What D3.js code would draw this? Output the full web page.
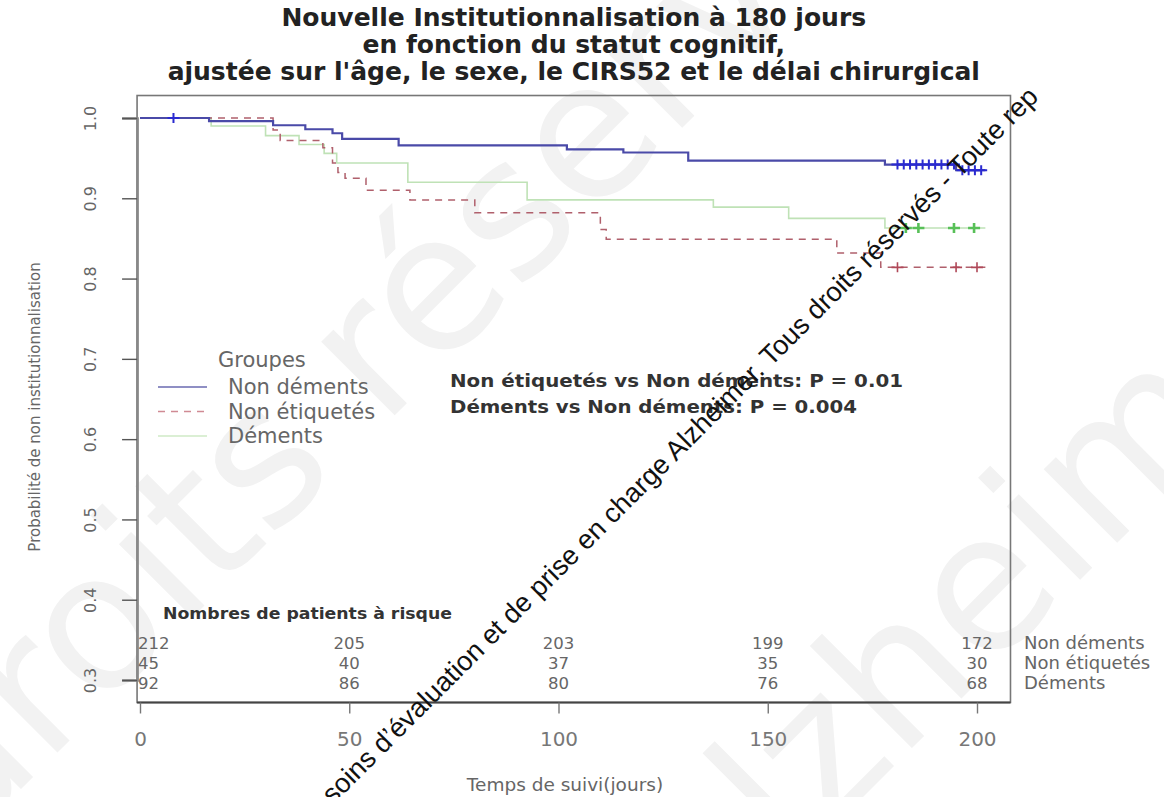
<!DOCTYPE html>
<html>
<head>
<meta charset="utf-8">
<script src="https://cdn.jsdelivr.net/npm/d3@7"></script>
<style>
  body { margin: 0; background: #fff; }
  svg { display: block; }
  text { font-family: "DejaVu Sans", sans-serif; }
</style>
</head>
<body>
<svg id="chart" width="1164" height="797"></svg>
<script>
// ---- Data ----------------------------------------------------------------
const groups = ["Non déments", "Non étiquetés", "Déments"];

// Adjusted survival curves: step change times (days) and survival after each step
const timesNonDements = [0, 16.5, 31.8, 39.5, 46, 48.3, 61.8, 102, 115.5, 131, 178, 195];
const survNonDements  = [1.000, 0.996, 0.991, 0.986, 0.981, 0.974, 0.966, 0.961, 0.957, 0.947, 0.942, 0.935];

const timesNonEtiquetes = [0, 31.8, 33.5, 43.7, 46, 47.3, 49, 54, 64.5, 80, 110, 111.4, 166.5, 177];
const survNonEtiquetes  = [1.000, 0.985, 0.972, 0.963, 0.944, 0.932, 0.925, 0.910, 0.898, 0.882, 0.861, 0.849, 0.832, 0.814];

const timesDements = [0, 17, 30, 38, 44, 47, 64, 92.5, 137, 155, 178];
const survDements  = [1.000, 0.990, 0.978, 0.967, 0.956, 0.944, 0.920, 0.898, 0.889, 0.875, 0.863];

const followUpEnd = 202;

// Censoring times
const censorNonDements   = [8, 181, 182.5, 184, 185.5, 187, 188.5, 190, 191.5, 193, 194.5, 196.5, 198, 199.5, 201];
const censorNonEtiquetes = [181, 195, 200];
const censorDements      = [183, 186, 194.5, 199.3];

// Numbers at risk
const riskTimes        = [0, 50, 100, 150, 200];
const riskNonDements   = [212, 205, 203, 199, 172];
const riskNonEtiquetes = [45, 40, 37, 35, 30];
const riskDements      = [92, 86, 80, 76, 68];

// Axes and annotations
const xTicks = [0, 50, 100, 150, 200];
const yTicks = [0.3, 0.4, 0.5, 0.6, 0.7, 0.8, 0.9, 1.0];
const titleLines = [
  "Nouvelle Institutionnalisation à 180 jours",
  "en fonction du statut cognitif,",
  "ajustée sur l'âge, le sexe, le CIRS52 et le délai chirurgical"
];
const pValueLines = [
  "Non étiquetés vs Non déments: P = 0.01",
  "Déments vs Non déments: P = 0.004"
];
const watermark = "de soins d’évaluation et de prise en charge Alzheimer. Tous droits réservés - Toute rep";
const bigMarks = ["droits réservés", "Alzheimer"];

// ---- Drawing ---------------------------------------------------------------
const svg = d3.select("#chart");
const W = 1164, H = 797;
svg.append("rect").attr("width", W).attr("height", H).attr("fill", "#fff");

const x = d3.scaleLinear().domain([0, 200]).range([140, 977]);
const y = d3.scaleLinear().domain([0.3, 1.0]).range([680, 118]);
const fx0 = x(-0.7), fx1 = x(208), fy0 = y(1.028), fy1 = y(0.272);

// large faint background lettering
const big = svg.append("g").attr("fill", "#f2f2f2")
  .style("font-family", "'Liberation Sans', Arial, sans-serif")
  .style("font-size", "190px");
big.append("text").attr("transform", "translate(-40,850) rotate(-45)").text(bigMarks[0]);
big.append("text").attr("transform", "translate(700,960) rotate(-45)").text(bigMarks[1]);

const series = [
  { name: groups[0], t: timesNonDements, s: survNonDements, cens: censorNonDements,
    stroke: "#4a4aa8", width: 2.2, dash: null, mark: "#2a2ad0", markW: 2 },
  { name: groups[1], t: timesNonEtiquetes, s: survNonEtiquetes, cens: censorNonEtiquetes,
    stroke: "#b0606c", width: 1.5, dash: "7,6", mark: "#b04858", markW: 1.6 },
  { name: groups[2], t: timesDements, s: survDements, cens: censorDements,
    stroke: "#bfe2b6", width: 1.6, dash: null, mark: "#58c058", markW: 2.6 }
];

function survAt(sr, t) {
  const i = d3.bisectRight(sr.t, t) - 1;
  return sr.s[Math.max(0, i)];
}

const stepLine = d3.line().curve(d3.curveStepAfter).x(d => x(d[0])).y(d => y(d[1]));

const plot = svg.append("g");
// draw from back to front: Déments, Non étiquetés, Non déments
[series[2], series[1], series[0]].forEach(sr => {
  const pts = sr.t.map((t, i) => [t, sr.s[i]]);
  pts.push([followUpEnd, sr.s[sr.s.length - 1]]);
  plot.append("path")
    .attr("d", stepLine(pts))
    .attr("fill", "none")
    .attr("stroke", sr.stroke)
    .attr("stroke-width", sr.width)
    .attr("stroke-dasharray", sr.dash);
  plot.selectAll(null).data(sr.cens).enter().append("path")
    .attr("d", t => {
      const cx = x(t), cy = y(survAt(sr, t));
      return `M${cx - 6},${cy}H${cx + 6}M${cx},${cy - 5}V${cy + 5}`;
    })
    .attr("stroke", sr.mark)
    .attr("stroke-width", sr.markW)
    .attr("fill", "none");
});

// frame
svg.append("rect")
  .attr("x", fx0).attr("y", fy0)
  .attr("width", fx1 - fx0).attr("height", fy1 - fy0)
  .attr("fill", "none").attr("stroke", "#777").attr("stroke-width", 1.6);
svg.append("line").attr("x1", fx0).attr("x2", fx1).attr("y1", fy1).attr("y2", fy1)
  .attr("stroke", "#444").attr("stroke-width", 2);

// y axis
const yAxis = svg.append("g").attr("transform", `translate(${fx0},0)`)
  .call(d3.axisLeft(y).tickValues(yTicks).tickSize(15).tickFormat(d3.format(".1f")));
yAxis.select(".domain").attr("stroke", "#888").attr("stroke-width", 2.6);
yAxis.selectAll(".tick line").attr("stroke", "#555").attr("stroke-width", 1.4);
yAxis.selectAll(".tick text")
  .attr("x", null).attr("dy", null)
  .attr("text-anchor", "middle")
  .attr("transform", "translate(-41,0) rotate(-90)")
  .attr("fill", "#666").style("font-size", "16px");

// x axis
const xAxis = svg.append("g").attr("transform", `translate(0,${fy1})`)
  .call(d3.axisBottom(x).tickValues(xTicks).tickSize(11).tickPadding(18));
xAxis.select(".domain").remove();
xAxis.selectAll(".tick line").attr("stroke", "#777").attr("stroke-width", 1.4);
xAxis.selectAll(".tick text").attr("fill", "#777").style("font-size", "20px");

// axis titles
svg.append("text")
  .attr("transform", `translate(40,${(fy0 + fy1) / 2 + 8}) rotate(-90)`)
  .attr("text-anchor", "middle").attr("fill", "#666").style("font-size", "15px")
  .text("Probabilité de non institutionnalisation");
svg.append("text")
  .attr("x", 565).attr("y", 791)
  .attr("text-anchor", "middle").attr("fill", "#666").style("font-size", "18.5px")
  .text("Temps de suivi(jours)");

// title
svg.append("g").selectAll("text").data(titleLines).enter().append("text")
  .attr("x", (fx0 + fx1) / 2)
  .attr("y", (d, i) => 26 + i * 27)
  .attr("text-anchor", "middle")
  .attr("fill", "#222")
  .style("font-weight", "bold").style("font-size", "25px")
  .text(d => d);

// legend
const leg = svg.append("g");
leg.append("text").attr("x", 218).attr("y", 367).attr("fill", "#666")
  .style("font-size", "21px").text("Groupes");
series.forEach((sr, i) => {
  const ly = y(0.665) + i * 24.5;
  leg.append("line").attr("x1", 158).attr("x2", 207).attr("y1", ly).attr("y2", ly)
    .attr("stroke", i === 0 ? "#6a6ab0" : i === 1 ? "#d08a94" : "#cfeac6")
    .attr("stroke-width", 1.6)
    .attr("stroke-dasharray", sr.dash);
  leg.append("text").attr("x", 228).attr("y", ly + 7.5).attr("fill", "#666")
    .style("font-size", "21px").text(sr.name);
});

// p-values
const pWidths = [453, 407];
svg.append("g").selectAll("text").data(pValueLines).enter().append("text")
  .attr("x", 450).attr("y", (d, i) => 387 + i * 26)
  .attr("fill", "#333").style("font-weight", "bold").style("font-size", "18px")
  .attr("textLength", (d, i) => pWidths[i]).attr("lengthAdjust", "spacingAndGlyphs")
  .text(d => d);

// numbers at risk
svg.append("text").attr("x", 163).attr("y", 619)
  .attr("fill", "#333").style("font-weight", "bold").style("font-size", "16px")
  .attr("textLength", 289).attr("lengthAdjust", "spacingAndGlyphs")
  .text("Nombres de patients à risque");
const riskRows = [riskNonDements, riskNonEtiquetes, riskDements];
const rowY = [649, 669, 689];
riskRows.forEach((row, r) => {
  svg.append("g").selectAll("text").data(row).enter().append("text")
    .attr("x", (d, i) => i === 0 ? fx0 + 1 : x(riskTimes[i]))
    .attr("y", rowY[r])
    .attr("text-anchor", (d, i) => i === 0 ? "start" : "middle")
    .attr("fill", "#666").style("font-size", "16.5px")
    .text(d => d);
  svg.append("text").attr("x", 1024).attr("y", rowY[r])
    .attr("fill", "#666").style("font-size", "18px")
    .text(groups[r]);
});

// diagonal overprint
const wm = svg.append("text")
  .style("font-family", "'Liberation Sans', Arial, sans-serif")
  .style("font-size", "24px")
  .attr("fill", "#111")
  .text(watermark);
// fit the run from "soins" to "Toute re" along the diagonal
const node = wm.node();
const iSoins = watermark.indexOf("soins");
const iEnd = watermark.indexOf("Toute re") + "Toute re".length;
let span = node.getSubStringLength(iSoins, iEnd - iSoins);
const fs = 24 * 985 / span;
wm.style("font-size", fs + "px");
const prefix = node.getSubStringLength(0, iSoins);
const ang = 45 * Math.PI / 180;
const sx = 333 - prefix * Math.cos(ang), sy = 805 + prefix * Math.sin(ang);
wm.attr("transform", `translate(${sx},${sy}) rotate(-45)`);
</script>
</body>
</html>
